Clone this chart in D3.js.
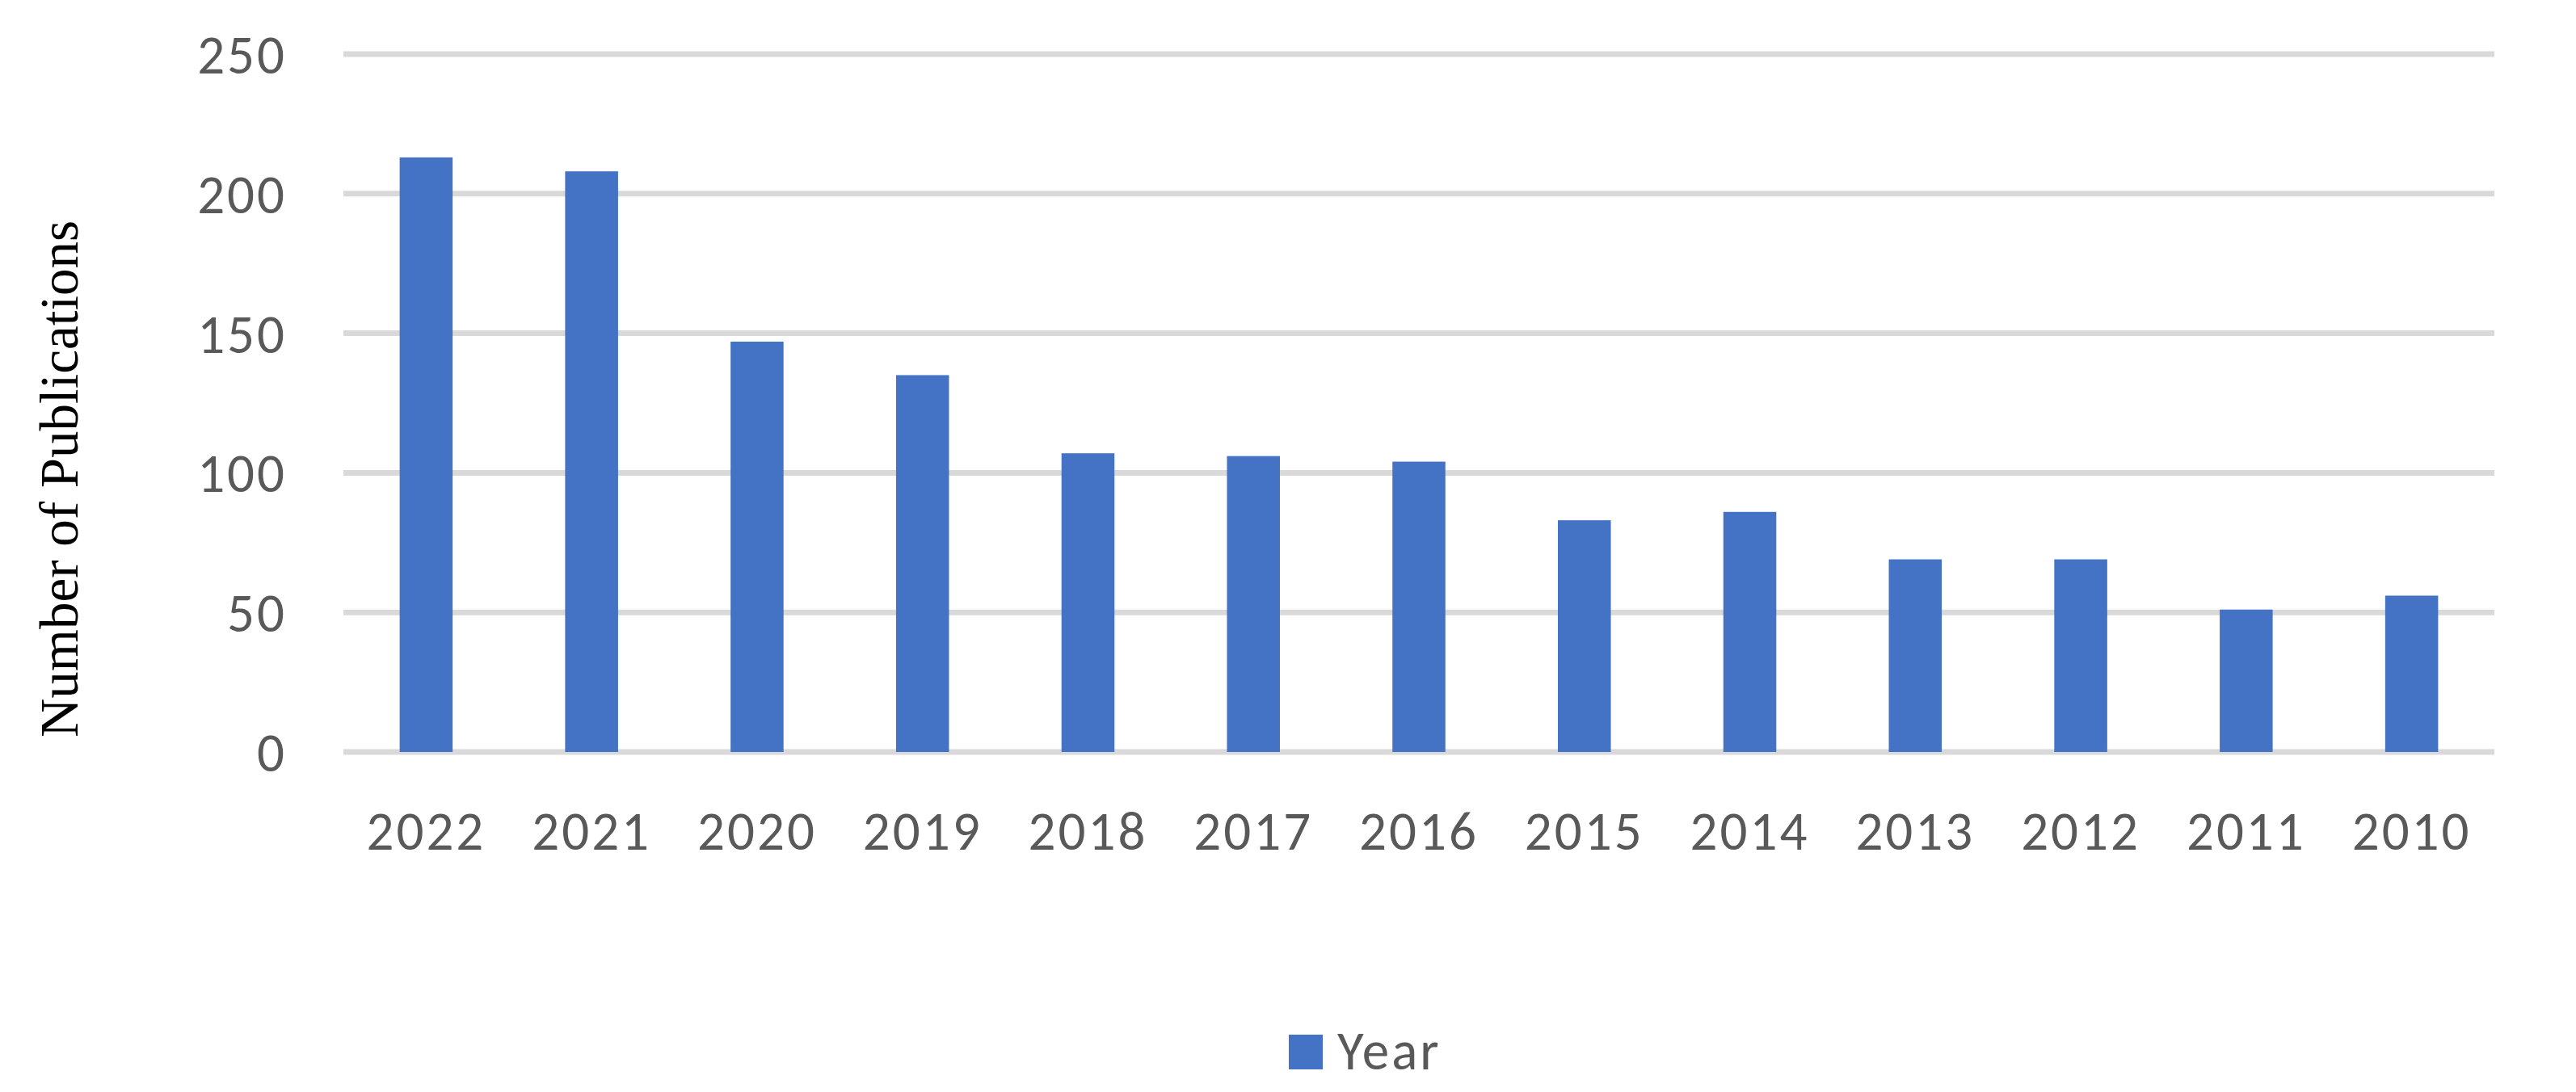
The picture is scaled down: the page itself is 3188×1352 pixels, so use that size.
<!DOCTYPE html>
<html>
<head>
<meta charset="utf-8">
<script src="https://cdn.jsdelivr.net/npm/d3@7"></script>
<style>
  html, body { margin: 0; padding: 0; background: #ffffff; }
  svg { display: block; }
</style>
</head>
<body>
<script>
const categories = ["2022","2021","2020","2019","2018","2017","2016","2015","2014","2013","2012","2011","2010"];
const values = [213, 208, 147, 135, 107, 106, 104, 83, 86, 69, 69, 51, 56];
const yTicks = [0, 50, 100, 150, 200, 250];
const seriesName = "Year";
const yTitle = "Number of Publications";

(function () {
const W = 3188, H = 1352;
const plotLeft = 425, plotRight = 3087, plotTop = 67, plotBottom = 931;
const labelFont = "Calibri, Carlito, Lato, sans-serif";
const labelSize = 67;
const labelSpacing = 3;

const svg = d3.select("body").append("svg").attr("width", W).attr("height", H);

const x = d3.scaleBand().domain(categories).range([plotLeft, plotRight]).paddingInner(0.68).paddingOuter(0.34);
const y = d3.scaleLinear().domain([0, 250]).range([plotBottom, plotTop]);

// gridlines
svg.append("g").selectAll("line").data(yTicks).join("line")
  .attr("x1", plotLeft).attr("x2", plotRight)
  .attr("y1", d => y(d)).attr("y2", d => y(d))
  .attr("stroke", "#d9d9d9").attr("stroke-width", 7);

// bars
svg.append("g").selectAll("rect").data(values).join("rect")
  .attr("x", (d, i) => x(categories[i]))
  .attr("width", x.bandwidth())
  .attr("y", d => y(d))
  .attr("height", d => y(0) - y(d))
  .attr("fill", "#4472c4");

// y axis labels
const yAxis = d3.axisLeft(y).tickValues(yTicks).tickSize(0).tickPadding(0);
const yg = svg.append("g").attr("transform", "translate(355,0)").call(yAxis);
yg.select(".domain").remove();
yg.selectAll("text")
  .attr("font-family", labelFont).attr("font-size", labelSize).attr("fill", "#595959")
  .attr("letter-spacing", labelSpacing)
  .attr("dy", "0.35em");

// x axis labels
const xAxis = d3.axisBottom(x).tickSize(0).tickPadding(0);
const xg = svg.append("g").attr("transform", "translate(0,1052)").call(xAxis);
xg.select(".domain").remove();
xg.selectAll("text")
  .attr("font-family", labelFont).attr("font-size", labelSize).attr("fill", "#595959")
  .attr("letter-spacing", labelSpacing)
  .attr("dy", 0).attr("y", 0);

// y title
svg.append("text")
  .attr("transform", "translate(96,593) rotate(-90)")
  .attr("text-anchor", "middle")
  .attr("font-family", "'Times New Roman', 'Liberation Serif', serif")
  .attr("font-size", 67).attr("fill", "#000000")
  .text(yTitle);

// legend
svg.append("rect").attr("x", 1595).attr("y", 1281).attr("width", 42).attr("height", 43).attr("fill", "#4472c4");
svg.append("text").attr("x", 1655).attr("y", 1324)
  .attr("font-family", labelFont).attr("font-size", labelSize).attr("fill", "#595959")
  .attr("letter-spacing", labelSpacing)
  .text(seriesName);
})();
</script>
</body>
</html>
